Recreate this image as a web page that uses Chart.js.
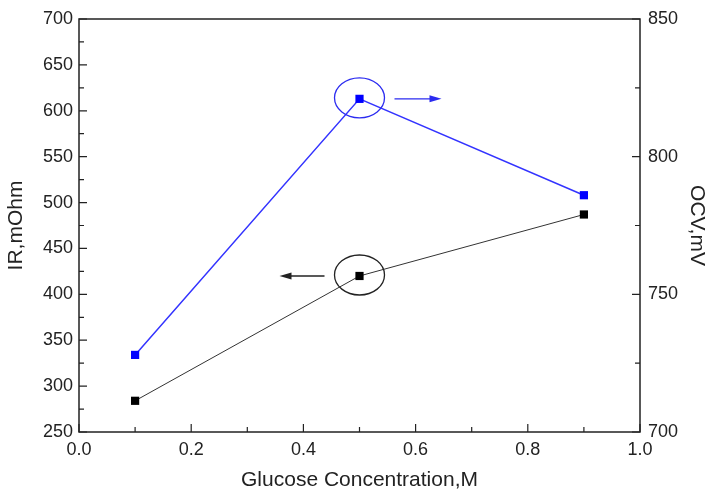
<!DOCTYPE html>
<html>
<head>
<meta charset="utf-8">
<script src="https://cdn.jsdelivr.net/npm/chart.js@4/dist/chart.umd.min.js"></script>
<style>
  body { margin: 0; background: #fff; }
  canvas { display: block; }
</style>
</head>
<body>
<canvas id="chart" width="709" height="491"></canvas>
<script>
// data
const conc = [0.1, 0.5, 0.9];          // Glucose Concentration, M
const irValues = [284, 420, 487];      // IR, mOhm (left axis)
const ocvValues = [728, 821, 786];     // OCV, mV (right axis)

const xTicks = [0.0, 0.2, 0.4, 0.6, 0.8, 1.0];
const irTicks = [250, 300, 350, 400, 450, 500, 550, 600, 650, 700];
const ocvTicks = [700, 750, 800, 850];

const FONT = '"Liberation Sans", Arial, sans-serif';
const TEXT = '#222';

// which point gets the circle + arrow (index into conc)
const markIdx = 1;

// inward ticks, frame, circles and arrows
const framePlugin = {
  id: 'frame',
  afterDraw(chart) {
    const ctx = chart.ctx;
    const a = chart.chartArea;
    const sx = chart.scales.x, sy = chart.scales.y, sy2 = chart.scales.y2;
    ctx.save();
    ctx.strokeStyle = '#222';
    ctx.lineWidth = 1.5;
    ctx.strokeRect(a.left, a.top, a.right - a.left, a.bottom - a.top);

    ctx.lineWidth = 1.2;
    ctx.beginPath();
    // x axis: major 0.2, minor 0.1
    for (let i = 0; i <= 10; i++) {
      const px = sx.getPixelForValue(i / 10);
      const len = i % 2 === 0 ? 8 : 5;
      ctx.moveTo(px, a.bottom);
      ctx.lineTo(px, a.bottom - len);
    }
    // left axis: major 50, minor 25
    for (let v = 250; v <= 700; v += 25) {
      const py = sy.getPixelForValue(v);
      const len = v % 50 === 0 ? 8 : 5;
      ctx.moveTo(a.left, py);
      ctx.lineTo(a.left + len, py);
    }
    // right axis
    for (let v = 700; v <= 850; v += 25) {
      const py = sy2.getPixelForValue(v);
      const len = v % 50 === 0 ? 8 : 5;
      ctx.moveTo(a.right, py);
      ctx.lineTo(a.right - len, py);
    }
    ctx.stroke();

    // circles around the middle points and the arrows
    const bx = sx.getPixelForValue(conc[markIdx]);
    const byBlue = sy2.getPixelForValue(ocvValues[markIdx]);
    const byBlack = sy.getPixelForValue(irValues[markIdx]);

    function ellipse(cy, color) {
      ctx.strokeStyle = color;
      ctx.lineWidth = 1.3;
      ctx.beginPath();
      ctx.ellipse(bx, cy - 1, 25, 20, 0, 0, Math.PI * 2);
      ctx.stroke();
    }
    function arrow(x1, x2, y, color) {
      ctx.strokeStyle = color;
      ctx.fillStyle = color;
      ctx.lineWidth = 1.3;
      const dir = Math.sign(x2 - x1);
      ctx.beginPath();
      ctx.moveTo(x1, y);
      ctx.lineTo(x2 - dir * 10, y);
      ctx.stroke();
      ctx.beginPath();
      ctx.moveTo(x2, y);
      ctx.lineTo(x2 - dir * 12, y - 3.5);
      ctx.lineTo(x2 - dir * 12, y + 3.5);
      ctx.closePath();
      ctx.fill();
    }
    ellipse(byBlue, '#2b2bf0');
    arrow(bx + 35, bx + 82, byBlue, '#2b2bf0');
    ellipse(byBlack, '#222');
    arrow(bx - 35, bx - 80, byBlack, '#222');
    ctx.restore();
  }
};

const irData = conc.map((c, i) => ({ x: c, y: irValues[i] }));
const ocvData = conc.map((c, i) => ({ x: c, y: ocvValues[i] }));

new Chart(document.getElementById('chart'), {
  type: 'line',
  data: {
    datasets: [
      {
        label: 'IR',
        data: irData,
        yAxisID: 'y',
        borderColor: '#333',
        borderWidth: 1,
        backgroundColor: '#000',
        pointBackgroundColor: '#000',
        pointBorderWidth: 0,
        pointStyle: 'rect',
        pointRadius: 5.8
      },
      {
        label: 'OCV',
        data: ocvData,
        yAxisID: 'y2',
        borderColor: '#3333ff',
        borderWidth: 1.5,
        backgroundColor: '#0000ff',
        pointBackgroundColor: '#0000ff',
        pointBorderWidth: 0,
        pointStyle: 'rect',
        pointRadius: 5.8
      }
    ]
  },
  options: {
    responsive: false,
    animation: false,
    layout: { padding: { top: 19, left: 0, right: 0, bottom: 0 } },
    plugins: { legend: { display: false }, tooltip: { enabled: false } },
    scales: {
      x: {
        type: 'linear',
        min: 0, max: 1,
        afterBuildTicks: s => { s.ticks = xTicks.map(v => ({ value: v })); },
        afterFit: s => { s.height = 59; },
        grid: { display: false, drawTicks: false },
        border: { display: false },
        ticks: {
          color: TEXT,
          padding: 7,
          maxRotation: 0,
          font: { family: FONT, size: 18 },
          callback: v => v.toFixed(1)
        },
        title: {
          display: true,
          text: 'Glucose Concentration,M',
          color: TEXT,
          padding: { top: 0, bottom: -1.5 },
          font: { family: FONT, size: 21 }
        }
      },
      y: {
        position: 'left',
        min: 250, max: 700,
        afterBuildTicks: s => { s.ticks = irTicks.map(v => ({ value: v })); },
        afterFit: s => { s.width = 79; },
        grid: { display: false, drawTicks: false },
        border: { display: false },
        ticks: {
          color: TEXT,
          padding: 6,
          font: { family: FONT, size: 18 }
        },
        title: {
          display: true,
          text: 'IR,mOhm',
          color: TEXT,
          padding: { top: 3.5, bottom: 0 },
          font: { family: FONT, size: 21 }
        }
      },
      y2: {
        position: 'right',
        min: 700, max: 850,
        afterBuildTicks: s => { s.ticks = ocvTicks.map(v => ({ value: v })); },
        afterFit: s => { s.width = 69; },
        grid: { display: false, drawTicks: false },
        border: { display: false },
        ticks: {
          color: TEXT,
          padding: 8,
          font: { family: FONT, size: 18 }
        },
        title: {
          display: true,
          text: 'OCV,mV',
          color: TEXT,
          padding: { top: 0, bottom: 0 },
          font: { family: FONT, size: 21 }
        }
      }
    }
  },
  plugins: [framePlugin]
});
</script>
</body>
</html>
